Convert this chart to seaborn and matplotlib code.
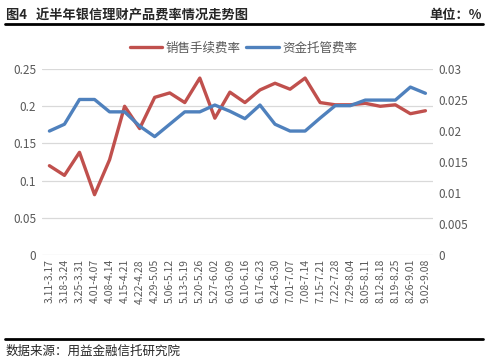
import numpy as np
import pandas as pd
import matplotlib
matplotlib.use('Agg')
import matplotlib.pyplot as plt
import seaborn as sns
from matplotlib.lines import Line2D

# 数据
weeks = ['3.11-3.17', '3.18-3.24', '3.25-3.31', '4.01-4.07', '4.08-4.14', '4.15-4.21',
         '4.22-4.28', '4.29-5.05', '5.06-5.12', '5.13-5.19', '5.20-5.26', '5.27-6.02',
         '6.03-6.09', '6.10-6.16', '6.17-6.23', '6.24-6.30', '7.01-7.07', '7.08-7.14',
         '7.15-7.21', '7.22-7.28', '7.29-8.04', '8.05-8.11', '8.12-8.18', '8.19-8.25',
         '8.26-9.01', '9.02-9.08']
sales_fee = [0.120, 0.107, 0.138, 0.081, 0.128, 0.200, 0.170, 0.212, 0.218, 0.205,
             0.238, 0.184, 0.219, 0.205, 0.222, 0.231, 0.223, 0.238, 0.205, 0.202,
             0.202, 0.204, 0.200, 0.202, 0.190, 0.194]
custody_fee = [0.0200, 0.0211, 0.0251, 0.0251, 0.0231, 0.0231, 0.0208, 0.0191, 0.0211,
               0.0231, 0.0231, 0.0242, 0.0232, 0.0220, 0.0242, 0.0211, 0.0200, 0.0200,
               0.0221, 0.0241, 0.0241, 0.0250, 0.0250, 0.0250, 0.0271, 0.0261]

sns.set_theme(style='white')
plt.rcParams['font.family'] = ['Noto Sans CJK SC', 'DejaVu Sans']
plt.rcParams['axes.unicode_minus'] = False

red = '#C0504D'
blue = '#4F81BD'
grey = '#595959'

df = pd.DataFrame({'week': weeks, 'sales': sales_fee, 'custody': custody_fee})
df['pos'] = np.arange(len(df))

fig = plt.figure(figsize=(4.87, 3.62), dpi=100)
ax = fig.add_axes([0.086, 0.296, 0.803, 0.513])
ax2 = ax.twinx()

sns.lineplot(data=df, x='pos', y='sales', ax=ax, color=red, linewidth=2.4)
sns.lineplot(data=df, x='pos', y='custody', ax=ax2, color=blue, linewidth=2.4)

ax.set_xlim(-0.5, len(weeks) - 0.5)
ax.set_ylim(0, 0.25)
ax2.set_ylim(0, 0.03)
ax.set_yticks([0, 0.05, 0.1, 0.15, 0.2, 0.25])
ax.set_yticklabels(['0', '0.05', '0.1', '0.15', '0.2', '0.25'])
ax2.set_yticks([0, 0.005, 0.01, 0.015, 0.02, 0.025, 0.03])
ax2.set_yticklabels(['0', '0.005', '0.01', '0.015', '0.02', '0.025', '0.03'])
ax.set_xticks(df['pos'])
ax.set_xticklabels(weeks, rotation=90, fontsize=7.5, color=grey)

for a in (ax, ax2):
    a.set_xlabel('')
    a.set_ylabel('')
    for s in a.spines.values():
        s.set_visible(False)
    a.tick_params(axis='y', length=0, labelsize=8.5, labelcolor=grey, pad=4)
ax.tick_params(axis='x', length=0, pad=3)
ax.grid(axis='y', color='#D9D9D9', linewidth=0.9)
ax.grid(axis='x', visible=False)
ax2.grid(False)
ax.set_axisbelow(True)

# 图例
handles = [Line2D([], [], color=red, linewidth=2.4), Line2D([], [], color=blue, linewidth=2.4)]
fig.legend(handles, ['销售手续费率', '资金托管费率'], loc='center', bbox_to_anchor=(0.5, 0.868),
           ncol=2, frameon=False, fontsize=9, handlelength=2.6, columnspacing=0.4,
           handletextpad=0.3, labelcolor=grey)

# 标题和来源
fig.text(0.012, 0.958, '图4   近半年银信理财产品费率情况走势图', fontsize=9.5, fontweight='bold',
         ha='left', va='center')
fig.text(0.99, 0.958, '单位：%', fontsize=9.5, fontweight='bold', ha='right', va='center')
fig.add_artist(Line2D([0.01, 0.992], [0.934, 0.934], color='black', linewidth=2))
fig.add_artist(Line2D([0.01, 0.992], [0.064, 0.064], color='black', linewidth=2))
fig.text(0.012, 0.03, '数据来源：用益金融信托研究院', fontsize=9, ha='left', va='center')

fig.savefig('out.png', dpi=100)
